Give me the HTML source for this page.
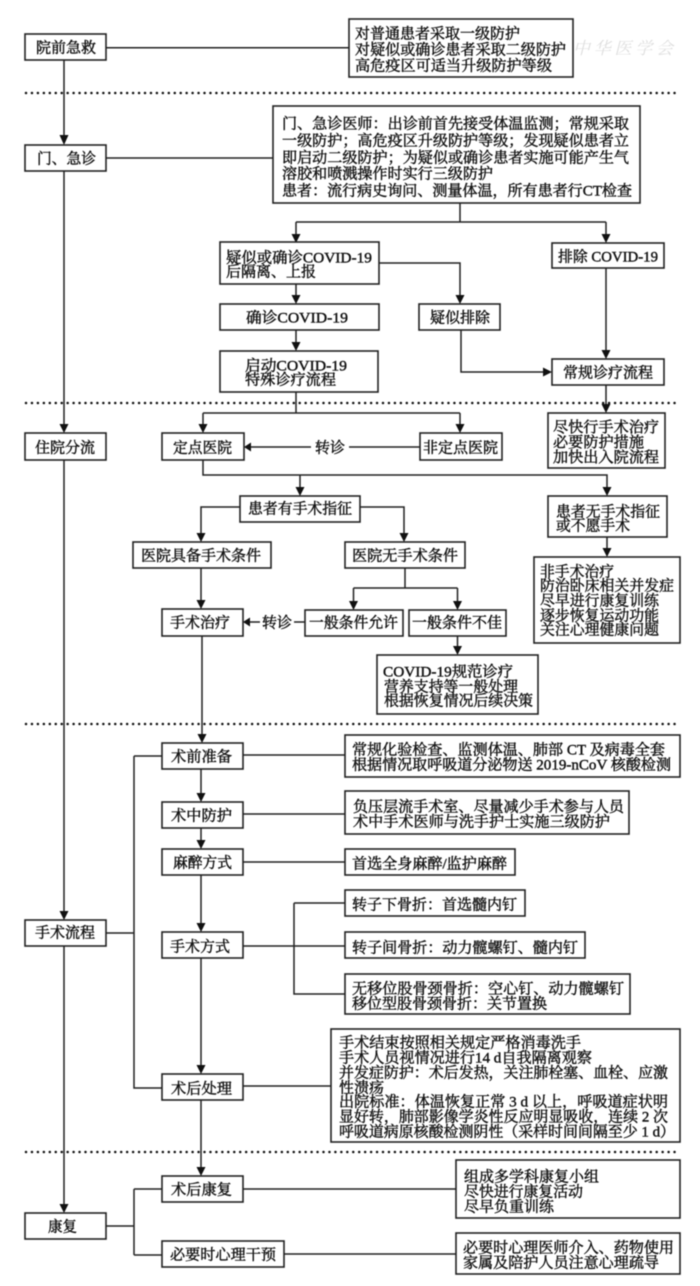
<!DOCTYPE html>
<html lang="zh">
<head>
<meta charset="utf-8">
<title>流程图</title>
<style>
html,body{margin:0;padding:0;background:#fff}
svg{display:block;filter:blur(.4px)}
text{font-family:"Liberation Serif","Noto Serif CJK SC",serif;font-size:15px;fill:#111;stroke:#111;stroke-width:.42px}
.b rect{fill:#fff;stroke:#222;stroke-width:1.6}
.l path{fill:none;stroke:#222;stroke-width:1.5}
.a path{fill:#111;stroke:none}
.d line{stroke:#111;stroke-width:2.5;stroke-dasharray:0 5.95;stroke-linecap:round}
.w text{fill:#dedede;stroke:none;font-family:"Noto Serif CJK SC",serif;font-size:17px;font-style:italic}
</style>
</head>
<body>
<svg xmlns="http://www.w3.org/2000/svg" width="700" height="1286" viewBox="0 0 700 1286">
<rect width="700" height="1286" fill="#fff"/>
<g class="w">
<circle cx="545" cy="48" r="15" fill="none" stroke="#e8e8e8" stroke-width="1.5"/>
<text x="573" y="54" textLength="100" lengthAdjust="spacing">中华医学会</text>
</g>
<g class="d">
<line x1="26" y1="93" x2="678" y2="93"/>
<line x1="26" y1="403" x2="678" y2="403"/>
<line x1="26" y1="724" x2="678" y2="724"/>
<line x1="26" y1="1152" x2="678" y2="1152"/>
</g>
<g class="l">
<path d="M106 47.7H349M64 60V137M106 158H273"/>
<path d="M64 171V427M64 460V912M64 946V1205"/>
<path d="M460 203V222M296 222H606M296 222V235M606 222V235"/>
<path d="M379 263H460V297M296 284V297M296 330V344M606 268V352M461 330V372H545"/>
<path d="M296 392V413M203 413H460M203 413V426M460 413V426M606 385V406"/>
<path d="M420 447H251M305 622H250"/>
<path d="M203 460V475H607V488M300 475V488"/>
<path d="M240 507H201V535M360 507H404V535M201 568V602M405 568V588M353.500 588H457.500M353.500 588V602M457.500 588V602M457.500 636V648M607 537V550"/>
<path d="M202 636V736M243 755H345M201 769V795M243 814H345M201 828V842M243 862H345M201 875V925M243 946H345M294 903H345M294 903V994H345"/>
<path d="M201 958V1067M243 1086H331M201 1100V1169"/>
<path d="M106 933H134M134 756H162M134 756V1088H162"/>
<path d="M106 1226H134M134 1189V1255M134 1189H162M134 1255H162M243 1189H456M284 1254H456"/>
</g>
<g class="a">
<path d="M59.500 135H68.500L64 145ZM59.500 424H68.500L64 433ZM59.500 911H68.500L64 920ZM59.500 1204H68.500L64 1213Z"/>
<path d="M291.500 234H300.500L296 243ZM601.500 234H610.500L606 243ZM455.500 295H464.500L460 304ZM291.500 295H300.500L296 304ZM291.500 342H300.500L296 351ZM601.500 350H610.500L606 359ZM543 367.500V376.500L552 372Z"/>
<path d="M198.500 424H207.500L203 433ZM455.500 424H464.500L460 433ZM601.500 404H610.500L606 413ZM251 442.500V451.500L244 447Z"/>
<path d="M295.500 487H304.500L300 496ZM602.500 487H611.500L607 496ZM196.500 533H205.500L201 542ZM399.500 533H408.500L404 542ZM602.500 548H611.500L607 557Z"/>
<path d="M196.500 600H205.500L201 609ZM349 601H358L353.500 610ZM453 601H462L457.500 610ZM250 617.500V626.500L243 622ZM453 646H462L457.500 655Z"/>
<path d="M197.500 734H206.500L202 743ZM196.500 793H205.500L201 802ZM196.500 840H205.500L201 849ZM196.500 923H205.500L201 932ZM196.500 1065H205.500L201 1074ZM196.500 1167H205.500L201 1176Z"/>
</g>
<g class="b">
<rect x="25" y="34" width="81" height="26"/>
<rect x="349" y="19" width="224" height="58"/>
<rect x="25" y="145" width="81" height="26"/>
<rect x="273" y="106" width="367" height="97"/>
<rect x="220" y="242" width="159" height="42"/>
<rect x="552" y="243" width="112" height="25"/>
<rect x="220" y="304" width="159" height="26"/>
<rect x="419" y="304" width="81" height="26"/>
<rect x="220" y="351" width="158" height="41"/>
<rect x="552" y="359" width="112" height="26"/>
<rect x="548" y="413" width="117" height="55"/>
<rect x="25" y="433" width="81" height="27"/>
<rect x="162" y="433" width="82" height="27"/>
<rect x="420" y="433" width="82" height="27"/>
<rect x="240" y="496" width="120" height="26"/>
<rect x="548" y="496" width="119" height="41"/>
<rect x="133" y="542" width="138" height="26"/>
<rect x="345" y="542" width="120" height="26"/>
<rect x="534" y="557" width="146" height="86"/>
<rect x="162" y="609" width="81" height="27"/>
<rect x="305" y="610" width="98" height="26"/>
<rect x="409" y="610" width="97" height="26"/>
<rect x="377" y="655" width="161" height="59"/>
<rect x="162" y="743" width="81" height="26"/>
<rect x="345" y="735" width="335" height="42"/>
<rect x="162" y="802" width="81" height="26"/>
<rect x="345" y="791" width="284" height="43"/>
<rect x="162" y="849" width="81" height="26"/>
<rect x="345" y="849" width="170" height="26"/>
<rect x="345" y="890" width="180" height="26"/>
<rect x="162" y="932" width="81" height="26"/>
<rect x="345" y="932" width="240" height="26"/>
<rect x="25" y="920" width="81" height="26"/>
<rect x="345" y="974" width="285" height="40"/>
<rect x="331" y="1029" width="349" height="113"/>
<rect x="162" y="1074" width="81" height="26"/>
<rect x="162" y="1176" width="81" height="26"/>
<rect x="456" y="1160" width="224" height="58"/>
<rect x="25" y="1213" width="81" height="26"/>
<rect x="162" y="1241" width="122" height="26"/>
<rect x="456" y="1233" width="224" height="41"/>
</g>
<rect x="311" y="438" width="38" height="18" fill="#fff"/>
<rect x="260" y="613" width="34" height="18" fill="#fff"/>
<g>
<text x="355" y="38.500" textLength="165" lengthAdjust="spacingAndGlyphs">对普通患者采取一级防护</text>
<text x="355" y="54.500" textLength="211" lengthAdjust="spacingAndGlyphs">对疑似或确诊患者采取二级防护</text>
<text x="355" y="70.500" textLength="197" lengthAdjust="spacingAndGlyphs">高危疫区可适当升级防护等级</text>
<text x="36" y="52.500" textLength="60" lengthAdjust="spacingAndGlyphs">院前急救</text>
<text x="37" y="163.500" textLength="59" lengthAdjust="spacingAndGlyphs">门、急诊</text>
<text x="282" y="128.500" textLength="347" lengthAdjust="spacingAndGlyphs">门、急诊医师：出诊前首先接受体温监测；常规采取</text>
<text x="282" y="145.500" textLength="347" lengthAdjust="spacingAndGlyphs">一级防护；高危疫区升级防护等级；发现疑似患者立</text>
<text x="282" y="162.500" textLength="347" lengthAdjust="spacingAndGlyphs">即启动二级防护；为疑似或确诊患者实施可能产生气</text>
<text x="282" y="178.500" textLength="211" lengthAdjust="spacingAndGlyphs">溶胶和喷溅操作时实行三级防护</text>
<text x="282" y="195.500" textLength="350" lengthAdjust="spacingAndGlyphs">患者：流行病史询问、测量体温，所有患者行CT检查</text>
<text x="226" y="262.500" textLength="146" lengthAdjust="spacingAndGlyphs">疑似或确诊COVID-19</text>
<text x="226" y="276.500" textLength="90" lengthAdjust="spacingAndGlyphs">后隔离、上报</text>
<text x="558" y="261.500" textLength="100" lengthAdjust="spacingAndGlyphs">排除 COVID-19</text>
<text x="246" y="322.500" textLength="102" lengthAdjust="spacingAndGlyphs">确诊COVID-19</text>
<text x="430" y="322.500" textLength="60" lengthAdjust="spacingAndGlyphs">疑似排除</text>
<text x="245" y="370.500" textLength="102" lengthAdjust="spacingAndGlyphs">启动COVID-19</text>
<text x="245" y="384.500" textLength="91" lengthAdjust="spacingAndGlyphs">特殊诊疗流程</text>
<text x="563" y="377.500" textLength="90" lengthAdjust="spacingAndGlyphs">常规诊疗流程</text>
<text x="553" y="432" textLength="106" lengthAdjust="spacingAndGlyphs">尽快行手术治疗</text>
<text x="553" y="447" textLength="91" lengthAdjust="spacingAndGlyphs">必要防护措施</text>
<text x="553" y="462" textLength="106" lengthAdjust="spacingAndGlyphs">加快出入院流程</text>
<text x="35" y="452.500" textLength="60" lengthAdjust="spacingAndGlyphs">住院分流</text>
<text x="173" y="452.500" textLength="59" lengthAdjust="spacingAndGlyphs">定点医院</text>
<text x="423" y="452.500" textLength="75" lengthAdjust="spacingAndGlyphs">非定点医院</text>
<text x="315" y="452.500" textLength="30" lengthAdjust="spacingAndGlyphs">转诊</text>
<text x="248" y="513.500" textLength="104" lengthAdjust="spacingAndGlyphs">患者有手术指征</text>
<text x="556" y="516.500" textLength="104" lengthAdjust="spacingAndGlyphs">患者无手术指征</text>
<text x="556" y="530.500" textLength="74" lengthAdjust="spacingAndGlyphs">或不愿手术</text>
<text x="141" y="560.500" textLength="120" lengthAdjust="spacingAndGlyphs">医院具备手术条件</text>
<text x="352" y="560.500" textLength="106" lengthAdjust="spacingAndGlyphs">医院无手术条件</text>
<text x="540" y="576.500" textLength="74" lengthAdjust="spacingAndGlyphs">非手术治疗</text>
<text x="540" y="590.500" textLength="134" lengthAdjust="spacingAndGlyphs">防治卧床相关并发症</text>
<text x="540" y="605.500" textLength="119" lengthAdjust="spacingAndGlyphs">尽早进行康复训练</text>
<text x="540" y="620.500" textLength="119" lengthAdjust="spacingAndGlyphs">逐步恢复运动功能</text>
<text x="540" y="634.500" textLength="119" lengthAdjust="spacingAndGlyphs">关注心理健康问题</text>
<text x="170" y="627.500" textLength="60" lengthAdjust="spacingAndGlyphs">手术治疗</text>
<text x="262" y="627.500" textLength="30" lengthAdjust="spacingAndGlyphs">转诊</text>
<text x="309" y="627.500" textLength="89" lengthAdjust="spacingAndGlyphs">一般条件允许</text>
<text x="412" y="627.500" textLength="90" lengthAdjust="spacingAndGlyphs">一般条件不佳</text>
<text x="383" y="676.500" textLength="130" lengthAdjust="spacingAndGlyphs">COVID-19规范诊疗</text>
<text x="384" y="691.500" textLength="134" lengthAdjust="spacingAndGlyphs">营养支持等一般处理</text>
<text x="384" y="705.500" textLength="149" lengthAdjust="spacingAndGlyphs">根据恢复情况后续决策</text>
<text x="171" y="761.500" textLength="61" lengthAdjust="spacingAndGlyphs">术前准备</text>
<text x="352" y="754.500" textLength="313" lengthAdjust="spacingAndGlyphs">常规化验检查、监测体温、肺部 CT 及病毒全套</text>
<text x="352" y="769.500" textLength="319" lengthAdjust="spacingAndGlyphs">根据情况取呼吸道分泌物送 2019-nCoV 核酸检测</text>
<text x="171" y="820.500" textLength="61" lengthAdjust="spacingAndGlyphs">术中防护</text>
<text x="353" y="811.500" textLength="271" lengthAdjust="spacingAndGlyphs">负压层流手术室、尽量减少手术参与人员</text>
<text x="353" y="826.500" textLength="257" lengthAdjust="spacingAndGlyphs">术中手术医师与洗手护士实施三级防护</text>
<text x="173" y="867.500" textLength="59" lengthAdjust="spacingAndGlyphs">麻醉方式</text>
<text x="352" y="868.500" textLength="155" lengthAdjust="spacingAndGlyphs">首选全身麻醉/监护麻醉</text>
<text x="352" y="909.500" textLength="165" lengthAdjust="spacingAndGlyphs">转子下骨折：首选髓内钉</text>
<text x="170" y="951.500" textLength="60" lengthAdjust="spacingAndGlyphs">手术方式</text>
<text x="352" y="952.500" textLength="226" lengthAdjust="spacingAndGlyphs">转子间骨折：动力髋螺钉、髓内钉</text>
<text x="35" y="937.500" textLength="60" lengthAdjust="spacingAndGlyphs">手术流程</text>
<text x="352" y="993.500" textLength="272" lengthAdjust="spacingAndGlyphs">无移位股骨颈骨折：空心钉、动力髋螺钉</text>
<text x="352" y="1008.500" textLength="195" lengthAdjust="spacingAndGlyphs">移位型股骨颈骨折：关节置换</text>
<text x="339" y="1047.500" textLength="242" lengthAdjust="spacingAndGlyphs">手术结束按照相关规定严格消毒洗手</text>
<text x="339" y="1062.500" textLength="253" lengthAdjust="spacingAndGlyphs">手术人员视情况进行14 d自我隔离观察</text>
<text x="339" y="1077.500" textLength="329" lengthAdjust="spacingAndGlyphs">并发症防护：术后发热，关注肺栓塞、血栓、应激</text>
<text x="339" y="1092.500" textLength="45" lengthAdjust="spacingAndGlyphs">性溃疡</text>
<text x="339" y="1106.500" textLength="329" lengthAdjust="spacingAndGlyphs">出院标准：体温恢复正常 3 d 以上，呼吸道症状明</text>
<text x="339" y="1121.500" textLength="329" lengthAdjust="spacingAndGlyphs">显好转，肺部影像学炎性反应明显吸收，连续 2 次</text>
<text x="339" y="1136.500" textLength="336" lengthAdjust="spacingAndGlyphs">呼吸道病原核酸检测阴性（采样时间间隔至少 1 d）</text>
<text x="171" y="1093.500" textLength="61" lengthAdjust="spacingAndGlyphs">术后处理</text>
<text x="464" y="1181.500" textLength="135" lengthAdjust="spacingAndGlyphs">组成多学科康复小组</text>
<text x="464" y="1196.500" textLength="119" lengthAdjust="spacingAndGlyphs">尽快进行康复活动</text>
<text x="464" y="1211.500" textLength="90" lengthAdjust="spacingAndGlyphs">尽早负重训练</text>
<text x="171" y="1194.500" textLength="61" lengthAdjust="spacingAndGlyphs">术后康复</text>
<text x="48" y="1231.500" textLength="29" lengthAdjust="spacingAndGlyphs">康复</text>
<text x="170" y="1259.500" textLength="106" lengthAdjust="spacingAndGlyphs">必要时心理干预</text>
<text x="463" y="1252.500" textLength="211" lengthAdjust="spacingAndGlyphs">必要时心理医师介入、药物使用</text>
<text x="463" y="1267.500" textLength="196" lengthAdjust="spacingAndGlyphs">家属及陪护人员注意心理疏导</text>
</g>
</svg>
</body>
</html>
